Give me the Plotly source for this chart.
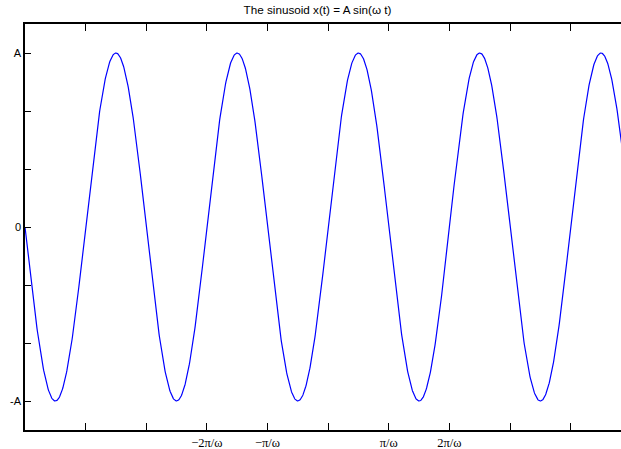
import numpy as np
import plotly.graph_objects as go

# Sinusoid parameters (t measured in units of pi/omega)
amplitude = 1.0
omega = 1.0
t_start = -5.0
t_end = 4.83
n_samples = 1500

x_tick_vals = [-5, -4, -3, -2, -1, 0, 1, 2, 3, 4]
x_tick_text = ["", "", "", "\u22122\u03c0/\u03c9", "\u2212\u03c0/\u03c9", "", "\u03c0/\u03c9", "2\u03c0/\u03c9", "", ""]
y_tick_vals = [-1, -2 / 3, -1 / 3, 0, 1 / 3, 2 / 3, 1]
y_tick_text = ["-A", "", "", "0", "", "", "A"]

t = np.linspace(t_start, t_end + 0.03, n_samples)
x_t = amplitude * np.sin(omega * np.pi * t)

fig = go.Figure()
fig.add_trace(go.Scatter(
    x=t, y=x_t, mode="lines",
    line=dict(color="#0000ff", width=1.2),
    showlegend=False, hoverinfo="skip",
))

fig.update_layout(
    width=621, height=449,
    margin=dict(l=25, r=0, t=24, b=19, autoexpand=False),
    paper_bgcolor="white", plot_bgcolor="white",
    title=dict(
        text="The sinusoid x(t) = A sin(\u03c9 t)",
        x=317.5 / 621, xanchor="center",
        y=1 - 10 / 449, yanchor="middle",
        font=dict(family="Liberation Sans, Arial, sans-serif", size=11.7, color="black"),
    ),
)

fig.update_xaxes(
    range=[t_start, t_end], automargin=False,
    tickmode="array", tickvals=x_tick_vals, ticktext=x_tick_text,
    ticks="inside", ticklen=7, tickwidth=1, tickcolor="black",
    showline=True, linecolor="black", linewidth=1.5, mirror="ticks",
    showgrid=False, zeroline=False, ticklabelstandoff=0,
    tickfont=dict(family="Liberation Serif, Times New Roman, serif", size=12.5, color="black"),
)
fig.update_yaxes(
    range=[-7 / 6, 7 / 6], automargin=False,
    tickmode="array", tickvals=y_tick_vals, ticktext=y_tick_text,
    ticks="inside", ticklen=6, tickwidth=1, tickcolor="black",
    showline=True, linecolor="black", linewidth=1.5,
    showgrid=False, zeroline=False,
    tickfont=dict(family="Liberation Sans, Arial, sans-serif", size=11, color="black"),
)

fig.write_html("out.html")
